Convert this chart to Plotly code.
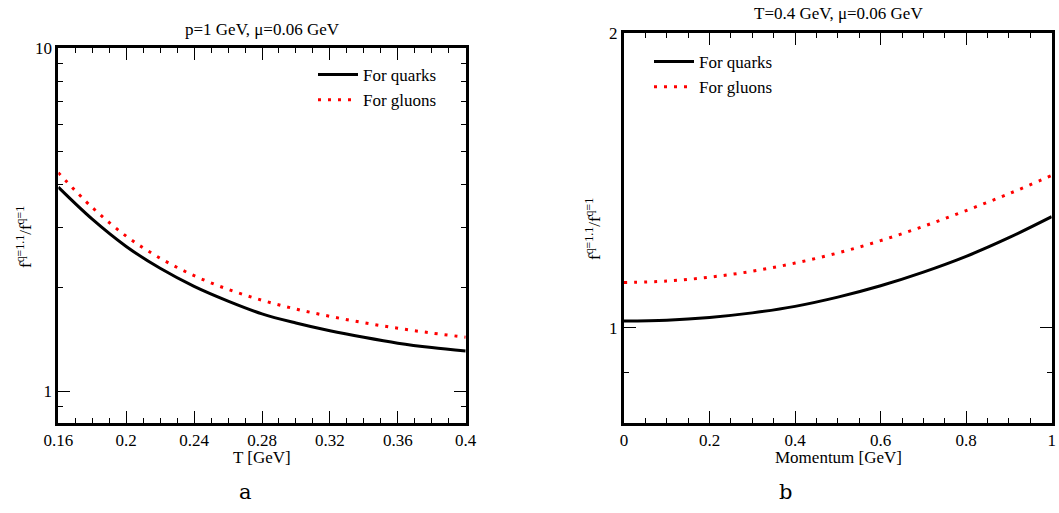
import plotly.graph_objects as go

# ---- data ----
T_vals = [0.16, 0.18, 0.20, 0.22, 0.24, 0.26, 0.28, 0.30, 0.32, 0.34, 0.36, 0.38, 0.40]
ratio_quarks_T = [3.93, 3.17, 2.64, 2.28, 2.02, 1.83, 1.68, 1.58, 1.50, 1.435, 1.38, 1.34, 1.31]
ratio_gluons_T = [4.33, 3.43, 2.83, 2.44, 2.17, 1.98, 1.84, 1.735, 1.652, 1.583, 1.525, 1.477, 1.436]

p_vals = [0.0, 0.1, 0.2, 0.3, 0.4, 0.5, 0.6, 0.7, 0.8, 0.9, 1.0]
ratio_quarks_p = [1.016, 1.018, 1.0245, 1.0355, 1.0515, 1.0745, 1.1035, 1.1395, 1.1825, 1.2355, 1.298]
ratio_gluons_p = [1.112, 1.116, 1.126, 1.142, 1.164, 1.192, 1.227, 1.269, 1.317, 1.370, 1.43]

x1_ticks = [0.16, 0.20, 0.24, 0.28, 0.32, 0.36, 0.40]
x1_labels = ["0.16", "0.2", "0.24", "0.28", "0.32", "0.36", "0.4"]
x2_ticks = [0, 0.2, 0.4, 0.6, 0.8, 1.0]
x2_labels = ["0", "0.2", "0.4", "0.6", "0.8", "1"]
y1_ticks = [1, 10]
y1_labels = ["1", "10"]
y2_ticks = [1, 2]
y2_labels = ["1", "2"]

title_a = "p=1 GeV, μ=0.06 GeV"
title_b = "T=0.4 GeV, μ=0.06 GeV"
ytitle = "f<sup>q=1.1</sup>/f<sup>q=1</sup>"

FONT = "Liberation Serif"
W, H = 1059, 513

fig = go.Figure()
fig.add_trace(go.Scatter(x=T_vals, y=ratio_quarks_T, mode="lines", name="For quarks",
                         line=dict(color="black", width=3, shape="spline"),
                         xaxis="x", yaxis="y", legend="legend"))
fig.add_trace(go.Scatter(x=T_vals, y=ratio_gluons_T, mode="lines", name="For gluons",
                         line=dict(color="red", width=3, dash="3px,7px", shape="spline"),
                         xaxis="x", yaxis="y", legend="legend"))
fig.add_trace(go.Scatter(x=p_vals, y=ratio_quarks_p, mode="lines", name="For quarks",
                         line=dict(color="black", width=3, shape="spline"),
                         xaxis="x2", yaxis="y2", legend="legend2"))
fig.add_trace(go.Scatter(x=p_vals, y=ratio_gluons_p, mode="lines", name="For gluons",
                         line=dict(color="red", width=3, dash="3px,7px", shape="spline"),
                         xaxis="x2", yaxis="y2", legend="legend2"))

def px_x(v):
    return v / W

def px_y(v):
    return 1 - v / H

axis_common = dict(showline=True, mirror="allticks", linecolor="black", linewidth=3,
                   ticks="inside", ticklen=12, tickwidth=1.3, tickcolor="black",
                   showgrid=False, zeroline=False, automargin=False,
                   tickfont=dict(family=FONT, size=17, color="black"))

minor_common = dict(ticks="inside", ticklen=5, tickwidth=1.3, tickcolor="black", showgrid=False)

fig.update_layout(
    width=W, height=H,
    margin=dict(l=0, r=0, t=0, b=0, autoexpand=False),
    paper_bgcolor="white", plot_bgcolor="white",
    font=dict(family=FONT, size=17, color="black"),
    xaxis=dict(domain=[px_x(58.3), px_x(465.7)], anchor="y", range=[0.16, 0.40],
               tickmode="array", tickvals=x1_ticks, ticktext=x1_labels,
               minor=dict(tickmode="linear", tick0=0.16, dtick=0.01, **minor_common),
               **axis_common),
    yaxis=dict(domain=[px_y(423), px_y(48)], anchor="x", type="log",
               range=[-0.0928, 1.0],
               tickmode="array", tickvals=y1_ticks, ticktext=y1_labels,
               minor=dict(tickmode="array", tickvals=[0.9, 2, 3, 4, 5, 6, 7, 8, 9], **minor_common),
               **axis_common),
    xaxis2=dict(domain=[px_x(624), px_x(1051.7)], anchor="y2", range=[0, 1],
                tickmode="array", tickvals=x2_ticks, ticktext=x2_labels,
                minor=dict(tickmode="linear", tick0=0, dtick=0.05, **minor_common),
                **axis_common),
    yaxis2=dict(domain=[px_y(422.7), px_y(32.7)], anchor="x2", type="log",
                range=[-0.0969, 0.30103],
                tickmode="array", tickvals=y2_ticks, ticktext=y2_labels,
                minor=dict(tickmode="array", tickvals=[0.9], **minor_common),
                **axis_common),
    legend=dict(x=px_x(313), y=px_y(57), xanchor="left", yanchor="top",
                bgcolor="rgba(0,0,0,0)", font=dict(family=FONT, size=17),
                itemwidth=40, tracegroupgap=0),
    legend2=dict(x=px_x(649), y=px_y(44), xanchor="left", yanchor="top",
                 bgcolor="rgba(0,0,0,0)", font=dict(family=FONT, size=17),
                 itemwidth=40, tracegroupgap=0),
    showlegend=True,
)

def note(text, x, y, size=17, angle=0, family=FONT):
    return dict(text=text, x=px_x(x), y=px_y(y), xref="paper", yref="paper",
                xanchor="center", yanchor="middle", showarrow=False,
                textangle=angle, font=dict(family=family, size=size, color="black"))

annotations = [
    note(title_a, 262, 29),
    note(title_b, 838, 13),
    note("T [GeV]", 262, 457),
    note("Momentum [GeV]", 838, 457),
    note(ytitle, 24, 237, size=17, angle=-90),
    note(ytitle, 593, 229, size=17, angle=-90),
    note("a", 245, 492, size=21, family="DejaVu Serif"),
    note("b", 785, 492, size=21, family="DejaVu Serif"),
]
fig.update_layout(annotations=annotations)

fig.write_html("out.html", config={"displayModeBar": False},
               post_script="document.body.style.margin='0px';")
